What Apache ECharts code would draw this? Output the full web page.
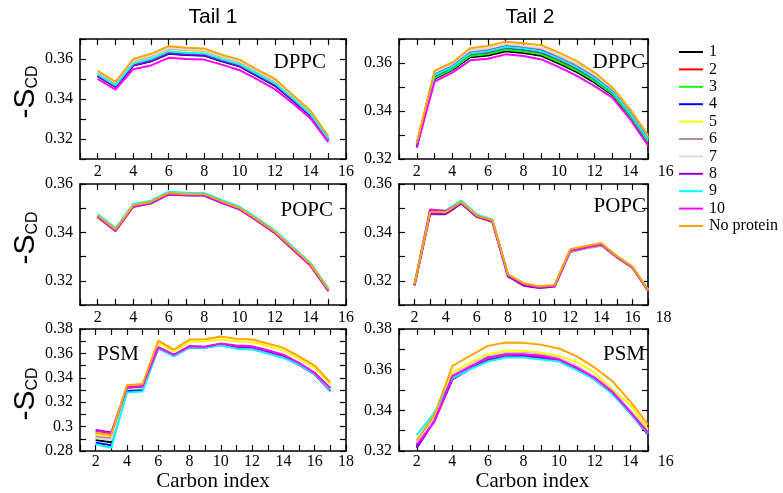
<!DOCTYPE html>
<html><head><meta charset="utf-8">
<script src="https://cdn.jsdelivr.net/npm/echarts@6/dist/echarts.min.js"></script>
<style>html,body{margin:0;padding:0;background:#fff}#c{width:783px;height:493px}</style>
</head><body><div id="c"></div>
<script>
// ---------- data ----------
const seriesNames = ['1','2','3','4','5','6','7','8','9','10','No protein'];
const seriesColors = ['#000000','#ff0000','#00ff00','#0000ff','#ffff00','#bc8f8f','#dcdcdc','#9400d3','#00ffff','#ff00ff','#ffa500'];
const carbons2to15 = [2,3,4,5,6,7,8,9,10,11,12,13,14,15];
const carbons2to17 = [2,3,4,5,6,7,8,9,10,11,12,13,14,15,16,17];

// Tail 1, DPPC (rows follow seriesNames)
const T1_DPPC = [
[0.3514,0.3461,0.3567,0.3588,0.3626,0.3620,0.3617,0.3589,0.3563,0.3515,0.3466,0.3393,0.3316,0.3195],
[0.3518,0.3465,0.3572,0.3594,0.3632,0.3625,0.3622,0.3594,0.3568,0.3520,0.3471,0.3397,0.3320,0.3198],
[0.3520,0.3466,0.3573,0.3596,0.3634,0.3627,0.3624,0.3596,0.3569,0.3522,0.3473,0.3399,0.3321,0.3198],
[0.3516,0.3462,0.3568,0.3590,0.3628,0.3621,0.3618,0.3591,0.3564,0.3517,0.3468,0.3395,0.3317,0.3195],
[0.3531,0.3476,0.3587,0.3612,0.3650,0.3642,0.3639,0.3609,0.3584,0.3535,0.3487,0.3410,0.3332,0.3207],
[0.3533,0.3478,0.3590,0.3614,0.3652,0.3645,0.3642,0.3611,0.3586,0.3537,0.3490,0.3412,0.3333,0.3208],
[0.3535,0.3480,0.3592,0.3617,0.3655,0.3648,0.3645,0.3614,0.3589,0.3540,0.3492,0.3414,0.3335,0.3210],
[0.3517,0.3463,0.3570,0.3592,0.3630,0.3624,0.3621,0.3593,0.3566,0.3519,0.3470,0.3396,0.3319,0.3197],
[0.3523,0.3468,0.3577,0.3600,0.3638,0.3631,0.3628,0.3599,0.3573,0.3525,0.3477,0.3402,0.3324,0.3201],
[0.3500,0.3447,0.3549,0.3568,0.3606,0.3600,0.3597,0.3572,0.3544,0.3498,0.3448,0.3379,0.3303,0.3184],
[0.3541,0.3486,0.3600,0.3626,0.3664,0.3656,0.3653,0.3621,0.3597,0.3547,0.3500,0.3420,0.3341,0.3214]
];

// Tail 1, POPC
const T1_POPC = [
[0.3467,0.3409,0.3509,0.3523,0.3560,0.3556,0.3555,0.3525,0.3498,0.3450,0.3400,0.3332,0.3266,0.3161],
[0.3468,0.3410,0.3510,0.3524,0.3561,0.3557,0.3556,0.3526,0.3499,0.3451,0.3401,0.3333,0.3267,0.3162],
[0.3470,0.3412,0.3512,0.3526,0.3563,0.3559,0.3558,0.3528,0.3501,0.3453,0.3403,0.3335,0.3269,0.3164],
[0.3469,0.3411,0.3511,0.3525,0.3562,0.3558,0.3557,0.3527,0.3500,0.3452,0.3402,0.3334,0.3268,0.3163],
[0.3472,0.3414,0.3514,0.3528,0.3565,0.3561,0.3560,0.3530,0.3503,0.3455,0.3405,0.3337,0.3271,0.3166],
[0.3463,0.3405,0.3505,0.3519,0.3556,0.3552,0.3551,0.3521,0.3494,0.3446,0.3396,0.3328,0.3262,0.3157],
[0.3465,0.3407,0.3507,0.3521,0.3558,0.3554,0.3553,0.3523,0.3496,0.3448,0.3398,0.3330,0.3264,0.3159],
[0.3464,0.3406,0.3506,0.3520,0.3557,0.3553,0.3552,0.3522,0.3495,0.3447,0.3397,0.3329,0.3263,0.3158],
[0.3475,0.3417,0.3517,0.3531,0.3568,0.3564,0.3563,0.3533,0.3506,0.3458,0.3408,0.3340,0.3274,0.3169],
[0.3466,0.3408,0.3508,0.3522,0.3559,0.3555,0.3554,0.3524,0.3497,0.3449,0.3399,0.3331,0.3265,0.3160],
[0.3470,0.3412,0.3512,0.3526,0.3563,0.3559,0.3558,0.3528,0.3501,0.3453,0.3403,0.3335,0.3269,0.3164]
];

// Tail 1, PSM
const T1_PSM = [
[0.2891,0.2872,0.3312,0.3320,0.3648,0.3583,0.3655,0.3651,0.3673,0.3652,0.3647,0.3614,0.3578,0.3515,0.3435,0.3305],
[0.2943,0.2928,0.3316,0.3326,0.3652,0.3587,0.3657,0.3653,0.3677,0.3656,0.3651,0.3618,0.3582,0.3517,0.3437,0.3308],
[0.2910,0.2895,0.3305,0.3315,0.3646,0.3581,0.3652,0.3649,0.3671,0.3648,0.3643,0.3610,0.3574,0.3512,0.3433,0.3302],
[0.2868,0.2847,0.3290,0.3298,0.3644,0.3578,0.3651,0.3648,0.3669,0.3642,0.3636,0.3603,0.3567,0.3506,0.3429,0.3298],
[0.2937,0.2924,0.3330,0.3342,0.3689,0.3617,0.3695,0.3699,0.3714,0.3700,0.3691,0.3660,0.3625,0.3556,0.3481,0.3346],
[0.2918,0.2904,0.3310,0.3320,0.3649,0.3585,0.3656,0.3652,0.3675,0.3654,0.3649,0.3616,0.3580,0.3514,0.3436,0.3306],
[0.2904,0.2890,0.3308,0.3318,0.3647,0.3583,0.3654,0.3650,0.3674,0.3651,0.3646,0.3613,0.3577,0.3513,0.3434,0.3304],
[0.2973,0.2951,0.3318,0.3328,0.3647,0.3584,0.3654,0.3652,0.3676,0.3655,0.3650,0.3616,0.3580,0.3510,0.3428,0.3292],
[0.2855,0.2827,0.3280,0.3288,0.3645,0.3576,0.3650,0.3647,0.3667,0.3637,0.3631,0.3598,0.3563,0.3508,0.3431,0.3300],
[0.2965,0.2943,0.3321,0.3332,0.3650,0.3590,0.3658,0.3655,0.3681,0.3664,0.3658,0.3626,0.3590,0.3522,0.3440,0.3316],
[0.2948,0.2932,0.3338,0.3349,0.3705,0.3631,0.3714,0.3716,0.3738,0.3719,0.3714,0.3681,0.3645,0.3576,0.3500,0.3362]
];

// Tail 2, DPPC
const T2_DPPC = [
[0.3256,0.3534,0.3571,0.3624,0.3631,0.3649,0.3642,0.3630,0.3598,0.3562,0.3518,0.3467,0.3376,0.3268],
[0.3258,0.3540,0.3577,0.3631,0.3639,0.3657,0.3650,0.3639,0.3607,0.3571,0.3526,0.3473,0.3382,0.3274],
[0.3258,0.3538,0.3575,0.3629,0.3637,0.3655,0.3648,0.3636,0.3604,0.3568,0.3524,0.3471,0.3380,0.3272],
[0.3248,0.3547,0.3583,0.3639,0.3647,0.3665,0.3658,0.3647,0.3616,0.3580,0.3535,0.3479,0.3388,0.3280],
[0.3263,0.3554,0.3589,0.3646,0.3655,0.3673,0.3666,0.3656,0.3625,0.3589,0.3543,0.3485,0.3394,0.3286],
[0.3264,0.3558,0.3593,0.3650,0.3659,0.3677,0.3670,0.3661,0.3630,0.3594,0.3548,0.3489,0.3398,0.3290],
[0.3265,0.3560,0.3594,0.3652,0.3661,0.3679,0.3672,0.3663,0.3632,0.3597,0.3550,0.3490,0.3399,0.3291],
[0.3262,0.3551,0.3586,0.3642,0.3651,0.3669,0.3662,0.3652,0.3620,0.3584,0.3539,0.3482,0.3391,0.3283],
[0.3261,0.3549,0.3584,0.3640,0.3649,0.3667,0.3660,0.3649,0.3618,0.3582,0.3536,0.3480,0.3389,0.3281],
[0.3252,0.3522,0.3560,0.3611,0.3618,0.3636,0.3629,0.3615,0.3583,0.3546,0.3504,0.3456,0.3365,0.3257],
[0.3268,0.3568,0.3602,0.3661,0.3671,0.3689,0.3682,0.3674,0.3643,0.3608,0.3560,0.3498,0.3407,0.3299]
];

// Tail 2, POPC
const T2_POPC = [
[0.3183,0.3483,0.3482,0.3522,0.3466,0.3446,0.3223,0.3186,0.3173,0.3178,0.3324,0.3338,0.3350,0.3298,0.3255,0.3160],
[0.3185,0.3487,0.3484,0.3524,0.3468,0.3448,0.3225,0.3188,0.3175,0.3180,0.3326,0.3340,0.3352,0.3300,0.3257,0.3162],
[0.3186,0.3488,0.3485,0.3525,0.3469,0.3449,0.3226,0.3189,0.3176,0.3181,0.3327,0.3341,0.3353,0.3301,0.3258,0.3163],
[0.3184,0.3486,0.3483,0.3523,0.3467,0.3447,0.3224,0.3187,0.3174,0.3179,0.3325,0.3339,0.3351,0.3299,0.3256,0.3161],
[0.3187,0.3489,0.3486,0.3526,0.3470,0.3450,0.3227,0.3190,0.3177,0.3182,0.3328,0.3342,0.3354,0.3302,0.3259,0.3164],
[0.3182,0.3484,0.3481,0.3521,0.3465,0.3445,0.3221,0.3184,0.3171,0.3175,0.3318,0.3333,0.3345,0.3295,0.3253,0.3158],
[0.3182,0.3484,0.3481,0.3521,0.3465,0.3445,0.3222,0.3185,0.3172,0.3177,0.3323,0.3337,0.3349,0.3297,0.3254,0.3159],
[0.3180,0.3476,0.3475,0.3519,0.3464,0.3444,0.3218,0.3180,0.3170,0.3176,0.3324,0.3338,0.3350,0.3298,0.3255,0.3160],
[0.3188,0.3491,0.3490,0.3532,0.3474,0.3454,0.3227,0.3189,0.3176,0.3181,0.3327,0.3341,0.3353,0.3301,0.3258,0.3163],
[0.3184,0.3495,0.3488,0.3524,0.3468,0.3448,0.3224,0.3187,0.3174,0.3180,0.3326,0.3340,0.3352,0.3300,0.3257,0.3161],
[0.3186,0.3484,0.3484,0.3526,0.3470,0.3450,0.3227,0.3190,0.3177,0.3183,0.3330,0.3344,0.3356,0.3302,0.3259,0.3162]
];

// Tail 2, PSM
const T2_PSM = [
[0.3225,0.3355,0.3560,0.3608,0.3650,0.3667,0.3669,0.3660,0.3646,0.3606,0.3555,0.3486,0.3390,0.3286],
[0.3235,0.3358,0.3565,0.3612,0.3656,0.3672,0.3673,0.3664,0.3649,0.3609,0.3558,0.3489,0.3392,0.3288],
[0.3238,0.3360,0.3562,0.3610,0.3654,0.3670,0.3671,0.3662,0.3648,0.3607,0.3556,0.3487,0.3391,0.3287],
[0.3218,0.3352,0.3553,0.3604,0.3645,0.3662,0.3664,0.3655,0.3642,0.3602,0.3552,0.3483,0.3388,0.3282],
[0.3240,0.3365,0.3585,0.3636,0.3676,0.3693,0.3693,0.3683,0.3668,0.3638,0.3585,0.3502,0.3427,0.3305],
[0.3245,0.3362,0.3572,0.3622,0.3665,0.3681,0.3682,0.3673,0.3657,0.3617,0.3566,0.3495,0.3400,0.3294],
[0.3242,0.3360,0.3570,0.3620,0.3663,0.3679,0.3680,0.3671,0.3655,0.3615,0.3564,0.3493,0.3398,0.3292],
[0.3215,0.3350,0.3552,0.3605,0.3648,0.3665,0.3668,0.3660,0.3645,0.3605,0.3553,0.3484,0.3388,0.3280],
[0.3278,0.3390,0.3557,0.3603,0.3640,0.3660,0.3660,0.3650,0.3640,0.3598,0.3552,0.3480,0.3386,0.3285],
[0.3232,0.3345,0.3568,0.3615,0.3660,0.3676,0.3676,0.3668,0.3651,0.3610,0.3560,0.3490,0.3394,0.3290],
[0.3253,0.3378,0.3618,0.3668,0.3717,0.3734,0.3732,0.3722,0.3704,0.3665,0.3610,0.3543,0.3444,0.3330]
];

// ---------- layout ----------
const SERIF = 'Liberation Serif';
const SANS = 'Liberation Sans';
const panels = [
  {g:[80,39,266,120],  xMax:16, labelMax:16, yMin:0.31, yMax:0.37, x:carbons2to15, data:T1_DPPC, tag:'DPPC', tx:326, ty:62, ta:'right', bottom:false},
  {g:[80,184,266,121], xMax:16, labelMax:16, yMin:0.31, yMax:0.36, x:carbons2to15, data:T1_POPC, tag:'POPC', tx:333, ty:210, ta:'right', bottom:false},
  {g:[80,329,266,122], xMax:18, labelMax:18, yMin:0.28, yMax:0.38, x:carbons2to17, data:T1_PSM,  tag:'PSM',  tx:97,  ty:354, ta:'left',  bottom:true},
  {g:[399,39,249,120], xMax:15, labelMax:16, yMin:0.32, yMax:0.37, x:carbons2to15, data:T2_DPPC, tag:'DPPC', tx:645, ty:62, ta:'right', bottom:false},
  {g:[399,184,249,121],xMax:17, labelMax:18, yMin:0.31, yMax:0.36, x:carbons2to17, data:T2_POPC, tag:'POPC', tx:646, ty:206, ta:'right', bottom:false},
  {g:[399,329,249,122],xMax:15, labelMax:16, yMin:0.32, yMax:0.38, x:carbons2to15, data:T2_PSM,  tag:'PSM',  tx:645, ty:354, ta:'right', bottom:true}
];

const grids = [], xAxes = [], yAxes = [], series = [], graphics = [];
const frameLine = {show:true, onZero:false, lineStyle:{color:'#000', width:1.6}};
const tick = {show:true, inside:true, length:6, lineStyle:{color:'#000', width:1.2}};

panels.forEach((p, i) => {
  const [l, t, w, h] = p.g;
  grids.push({left:l, top:t, width:w, height:h});
  const lw = w * (p.labelMax - 1) / (p.xMax - 1);
  grids.push({left:l, top:t, width:lw, height:h});
  const gMain = 2*i, gLab = 2*i+1;
  const xBase = {type:'value', gridIndex:gMain, min:1, max:p.xMax, interval:1, splitLine:{show:false},
                 axisLine:frameLine, axisTick:tick, axisLabel:{show:false}};
  xAxes.push(Object.assign({}, xBase, {position:'bottom'}));
  xAxes.push(Object.assign({}, xBase, {position:'top'}));
  xAxes.push({type:'value', gridIndex:gLab, min:1, max:p.labelMax, interval:1, position:'bottom',
    splitLine:{show:false}, axisLine:{show:false}, axisTick:{show:false},
    axisLabel:{show:true, margin:5, color:'#000', fontFamily:SERIF, fontSize:16,
      formatter: v => (Math.round(v) % 2 === 0 ? String(Math.round(v)) : '')},
    name: p.bottom ? 'Carbon index' : '', nameLocation:'middle', nameGap:20,
    nameTextStyle:{color:'#000', fontFamily:SERIF, fontSize:21}});
  const yBase = {type:'value', gridIndex:gMain, min:p.yMin, max:p.yMax, interval:0.01, splitLine:{show:false},
                 axisLine:frameLine, axisTick:tick};
  yAxes.push(Object.assign({}, yBase, {position:'left', axisLabel:{show:true, margin:7, color:'#000', fontFamily:SERIF, fontSize:16,
      formatter: v => { const k = Math.round(v*100); return k % 2 === 0 ? String(+(k/100).toFixed(2)) : ''; }}}));
  yAxes.push(Object.assign({}, yBase, {position:'right', axisLabel:{show:false}}));
  yAxes.push({type:'value', gridIndex:gLab, min:0, max:1, show:false});

  p.data.forEach((vals, s) => {
    series.push({type:'line', name:seriesNames[s], xAxisIndex:3*i, yAxisIndex:3*i,
      data: p.x.map((c, k) => [c, vals[k]]), symbol:'none', showSymbol:false,
      lineStyle:{width:2, color:seriesColors[s]}, itemStyle:{color:seriesColors[s]}});
  });

  graphics.push({type:'text', x:p.tx, y:p.ty, z:100,
    style:{text:p.tag, fill:'#000', font:'21px "' + SERIF + '"', align:p.ta, verticalAlign:'middle'}});
});

// column titles
graphics.push({type:'text', x:213, y:17, style:{text:'Tail 1', fill:'#000', font:'21px "' + SANS + '"', align:'center', verticalAlign:'middle'}});
graphics.push({type:'text', x:530, y:17, style:{text:'Tail 2', fill:'#000', font:'21px "' + SANS + '"', align:'center', verticalAlign:'middle'}});
// y-axis titles
[92, 238, 394].forEach(cy => {
  graphics.push({type:'text', x:26, y:cy, rotation:Math.PI/2,
    style:{text:'{a|-S}{b|CD}', align:'center', verticalAlign:'middle',
      rich:{a:{fontFamily:SANS, fontSize:30, fill:'#000', color:'#000', lineHeight:30, verticalAlign:'bottom'},
            b:{fontFamily:SANS, fontSize:16, fill:'#000', color:'#000', lineHeight:4, verticalAlign:'bottom'}}}});
});

const chart = echarts.init(document.getElementById('c'), null, {renderer:'canvas'});
chart.setOption({
  animation:false,
  backgroundColor:'#fff',
  grid:grids, xAxis:xAxes, yAxis:yAxes, series:series,
  legend:{data:seriesNames, orient:'vertical', left:674, top:39, itemWidth:24, itemHeight:14, itemGap:1.4,
    icon:'path://M0,6 L24,6 L24,8 L0,8 Z',
    textStyle:{color:'#000', fontFamily:SERIF, fontSize:16, padding:[0,0,0,1]}, selectedMode:false},
  graphic:graphics
});
</script></body></html>
